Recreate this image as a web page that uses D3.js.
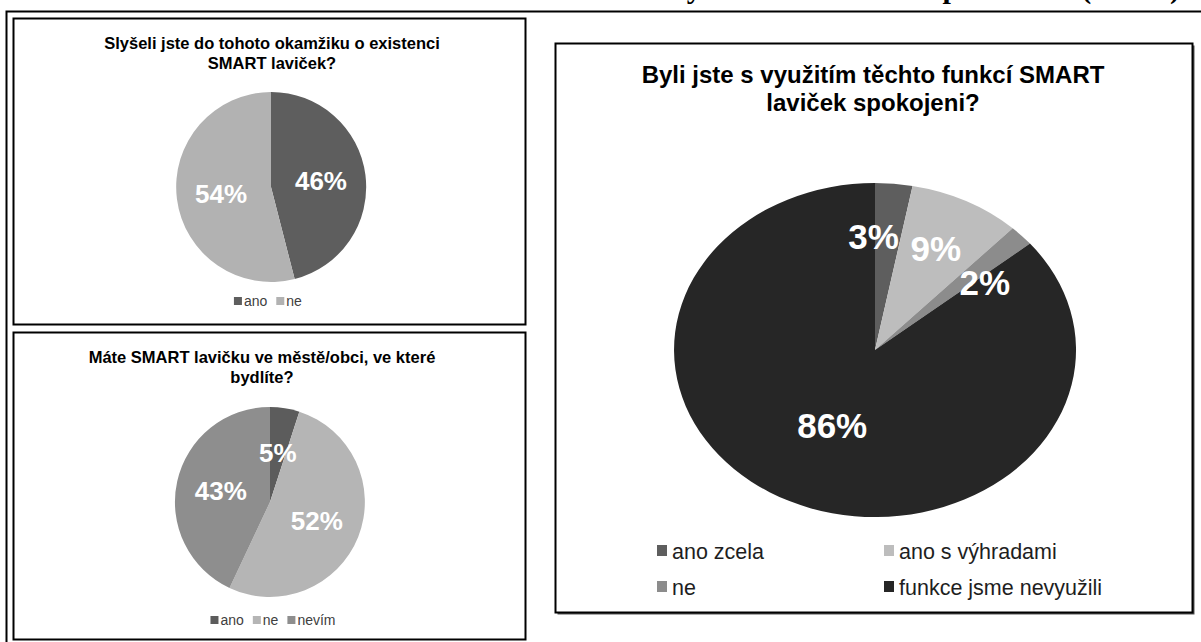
<!DOCTYPE html>
<html><head><meta charset="utf-8">
<script src="https://cdn.jsdelivr.net/npm/d3@7"></script>
<style>
html,body{margin:0;padding:0;background:#fff;}
svg{display:block;}
</style></head>
<body>
<svg id="chart" width="1201" height="642"></svg>
<script>
// ---- data ----
const chart1Title = ["Slyšeli jste do tohoto okamžiku o existenci", "SMART laviček?"];
const chart1Categories = ["ano", "ne"];
const chart1Values = [46, 54];
const chart1Colors = ["#5e5e5e", "#b2b2b2"];

const chart2Title = ["Máte SMART lavičku ve městě/obci, ve které", "bydlíte?"];
const chart2Categories = ["ano", "ne", "nevím"];
const chart2Values = [5, 52, 43];
const chart2Colors = ["#5c5c5c", "#b5b5b5", "#8e8e8e"];

const chart3Title = ["Byli jste s využitím těchto funkcí SMART", "laviček spokojeni?"];
const chart3Categories = ["ano zcela", "ano s výhradami", "ne", "funkce jsme nevyužili"];
const chart3Values = [3, 9, 2, 86];
const chart3Colors = ["#5e5e5e", "#bdbdbd", "#8c8c8c", "#262626"];

const pageHeading = "Obr. 6: Dotazníkové šetření – SMART lavičky – hodnocení dat v porovnání (n=120)";

// ---- drawing ----
const svg = d3.select("#chart");
const sans = "Liberation Sans, Arial, sans-serif";

// page heading (cut off at the top edge in the source image)
svg.append("text").attr("x", 1180).attr("y", -2).attr("text-anchor", "end")
  .attr("font-family", "Liberation Serif, Times New Roman, serif").attr("font-weight", "bold")
  .attr("font-size", 30).attr("fill", "#000").text(pageHeading);

// outer frame lines
svg.append("path").attr("d", "M6.5,642 V11.5 H1201").attr("fill", "none")
  .attr("stroke", "#000").attr("stroke-width", 2);

function panel(x, y, w, h, shadow) {
  if (shadow) {
    svg.append("rect").attr("x", x + 2).attr("y", y + 2).attr("width", w).attr("height", h)
      .attr("fill", "#555");
  }
  svg.append("rect").attr("x", x).attr("y", y).attr("width", w).attr("height", h)
    .attr("fill", "#fff").attr("stroke", "#000").attr("stroke-width", 2);
}

function title(lines, cx, y0, lh, size) {
  const t = svg.append("g");
  lines.forEach((l, i) => {
    t.append("text").attr("x", cx).attr("y", y0 + i * lh).attr("text-anchor", "middle")
      .attr("font-family", sans).attr("font-weight", "bold").attr("font-size", size)
      .attr("fill", "#000").text(l);
  });
}

// label angles: mid-angle, pushed apart when neighbouring labels of small slices are too close
function labelAngles(arcs, minGap) {
  const a = arcs.map(d => (d.startAngle + d.endAngle) / 2);
  const idx = arcs.map((d, i) => i).filter(i => arcs[i].endAngle - arcs[i].startAngle < Math.PI);
  for (let it = 0; it < 200; it++) {
    for (let j = 0; j < idx.length - 1; j++) {
      const p = idx[j], q = idx[j + 1];
      const gap = a[q] - a[p];
      if (gap < minGap) {
        const s = (minGap - gap) / 2;
        a[p] -= s; a[q] += s;
      }
    }
  }
  return a;
}

function drawPie(values, colors, cx, cy, rx, ry, labelSize, kSmall, kBig, minGapDeg) {
  const pie = d3.pie().sort(null).value(d => d);
  const arcs = pie(values);
  const arc = d3.arc().innerRadius(0).outerRadius(1);
  const g = svg.append("g").attr("transform", `translate(${cx},${cy}) scale(${rx},${ry})`);
  g.selectAll("path").data(arcs).join("path")
    .attr("d", arc).attr("fill", (d, i) => colors[i]);
  const ang = labelAngles(arcs, minGapDeg * Math.PI / 180);
  const k = d => (d.endAngle - d.startAngle > Math.PI ? kBig : kSmall);
  const lg = svg.append("g").attr("transform", `translate(${cx},${cy})`);
  lg.selectAll("text").data(arcs).join("text")
    .attr("x", (d, i) => Math.sin(ang[i]) * k(d) * rx)
    .attr("y", (d, i) => -Math.cos(ang[i]) * k(d) * ry)
    .attr("dy", "0.36em").attr("text-anchor", "middle")
    .attr("font-family", sans).attr("font-weight", "bold").attr("font-size", labelSize)
    .attr("fill", "#fff").text(d => d.data + "%");
}

function legendRow(items, colors, cx, y, gap, size, sw, color) {
  const g = svg.append("g");
  let x = 0;
  items.forEach((c, i) => {
    g.append("rect").attr("x", x).attr("y", y - sw / 2).attr("width", sw).attr("height", sw)
      .attr("fill", colors[i]);
    const t = g.append("text").attr("x", x + sw + 2).attr("y", y).attr("dy", "0.35em")
      .attr("font-family", sans).attr("font-size", size).attr("fill", color).text(c);
    x += sw + 2 + t.node().getComputedTextLength() + gap;
  });
  const bb = g.node().getBBox();
  g.attr("transform", `translate(${cx - bb.width / 2},0)`);
}

// Panel 1
panel(13.5, 18.5, 512, 306, false);
title(chart1Title, 272, 49, 20, 16.5);
drawPie(chart1Values, chart1Colors, 271, 187, 95, 95, 26, 0.53, 0.53, 30);
legendRow(chart1Categories, chart1Colors, 268, 301, 9, 14, 8, "#404040");

// Panel 2
panel(13.5, 332.5, 512, 307, false);
title(chart2Title, 262, 363, 20, 16.5);
drawPie(chart2Values, chart2Colors, 270, 502, 95, 95, 26, 0.53, 0.53, 30);
legendRow(chart2Categories, chart2Colors, 273, 620, 9, 14, 8, "#404040");

// Panel 3
panel(555.5, 43.5, 637, 569, true);
title(chart3Title, 873, 83, 28, 24);
drawPie(chart3Values, chart3Colors, 875, 350, 201, 167, 35, 0.68, 0.5, 27);
{
  const cols = [657, 884], rows = [551, 587];
  chart3Categories.forEach((c, i) => {
    const x = cols[i % 2], y = rows[Math.floor(i / 2)];
    svg.append("rect").attr("x", x).attr("y", y - 6).attr("width", 10).attr("height", 11)
      .attr("fill", chart3Colors[i]);
    svg.append("text").attr("x", x + 15).attr("y", y).attr("dy", "0.35em")
      .attr("font-family", sans).attr("font-size", 21.5).attr("fill", "#1e1e1e").text(c);
  });
}
</script>
</body></html>
